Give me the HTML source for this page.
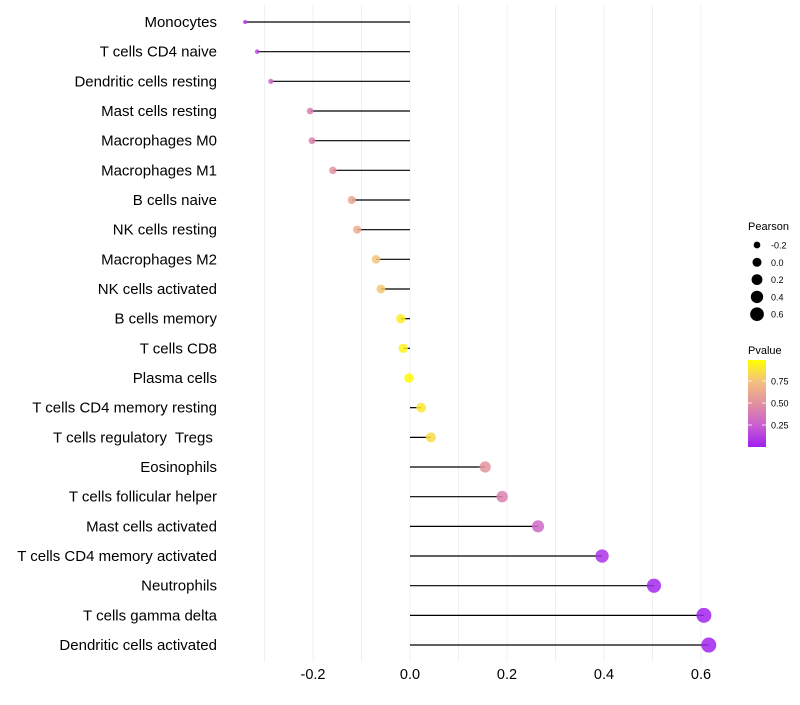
<!DOCTYPE html>
<html><head><meta charset="utf-8"><style>
body{margin:0;background:#fff;font-family:"Liberation Sans",sans-serif}
text{white-space:pre}
</style></head><body>
<svg id="chart" width="800" height="700" font-family="Liberation Sans, sans-serif"></svg>
<script>
const categories=["Monocytes","T cells CD4 naive","Dendritic cells resting","Mast cells resting","Macrophages M0","Macrophages M1","B cells naive","NK cells resting","Macrophages M2","NK cells activated","B cells memory","T cells CD8","Plasma cells","T cells CD4 memory resting","T cells regulatory  Tregs ","Eosinophils","T cells follicular helper","Mast cells activated","T cells CD4 memory activated","Neutrophils","T cells gamma delta","Dendritic cells activated"];
const pearson=[-0.34,-0.315,-0.287,-0.206,-0.202,-0.159,-0.12,-0.109,-0.07,-0.06,-0.019,-0.014,-0.002,0.023,0.043,0.155,0.19,0.264,0.396,0.503,0.606,0.616];
const pvalue=[0.1,0.15,0.3,0.42,0.42,0.52,0.62,0.64,0.76,0.78,0.93,0.95,0.99,0.9,0.86,0.52,0.42,0.3,0.08,0.03,0.01,0.01];
const xTicks=[-0.2,0,0.2,0.4,0.6];
const xTickLabels=["-0.2","0.0","0.2","0.4","0.6"];
const gridVals=[-0.3,-0.2,-0.1,0,0.1,0.2,0.3,0.4,0.5,0.6];
const sizeLegend=[-0.2,0,0.2,0.4,0.6];
const pLegend=[0.25,0.5,0.75];

const svg=document.getElementById('chart');
const NS='http://www.w3.org/2000/svg';
const x=v=>410+v*485;
const y=i=>22+i*29.667;
const r=v=>Math.sqrt(Math.max(2,4+(v+0.34)*55));
const rl=v=>Math.sqrt(Math.max(1.5,2.5+(v+0.34)*40));
function lerp(a,b,t){return a.map((c,k)=>Math.round(c+(b[k]-c)*t));}
const stops=[[0,[160,32,240]],[0.25,[200,96,208]],[0.5,[226,144,160]],[0.75,[244,192,128]],[1,[255,255,0]]];
function col(p){for(let k=0;k<stops.length-1;k++){if(p<=stops[k+1][0]){const t=(p-stops[k][0])/(stops[k+1][0]-stops[k][0]);return 'rgb('+lerp(stops[k][1],stops[k+1][1],t).join(',')+')';}}return 'rgb(255,255,0)';}
function el(t,a,txt){const e=document.createElementNS(NS,t);for(const k in a)e.setAttribute(k,a[k]);if(txt!==undefined)e.textContent=txt;svg.appendChild(e);return e;}

gridVals.forEach(v=>{const g=el('line',{x1:x(v),x2:x(v),y1:5,y2:662,stroke:'#f0f0f0','stroke-width':1});

});
xTicks.forEach((v,i)=>{const t=el('text',{x:x(v),y:679,'font-size':14.5,'text-anchor':'middle',fill:'#000'},xTickLabels[i]);

});
categories.forEach((c,i)=>{
const t=el('text',{x:217,y:y(i)+5,'font-size':15,'text-anchor':'end',fill:'#000'},c);


const l=el('line',{x1:x(0),x2:x(pearson[i]),y1:y(i),y2:y(i),stroke:'#000','stroke-width':1.2});


const d=el('circle',{cx:x(pearson[i]),cy:y(i),r:r(pearson[i]),fill:col(pvalue[i]),'fill-opacity':0.85});


});
const st=el('text',{x:748,y:230,'font-size':11},'Pearson');


sizeLegend.forEach((v,i)=>{const cy=245+i*17.3;
const c=el('circle',{cx:757,cy:cy,r:rl(v)+0.5,fill:'#000'});


const t=el('text',{x:771,y:cy+3.5,'font-size':9},v===0?'0.0':String(v));

});
const pt=el('text',{x:748,y:354,'font-size':11},'Pvalue');


const defs=el('defs',{});
const lg=document.createElementNS(NS,'linearGradient');lg.setAttribute('id','pg');lg.setAttribute('x1','0');lg.setAttribute('x2','0');lg.setAttribute('y1','1');lg.setAttribute('y2','0');
stops.forEach(s=>{const e=document.createElementNS(NS,'stop');e.setAttribute('offset',s[0]);e.setAttribute('stop-color','rgb('+s[1].join(',')+')');lg.appendChild(e);});
defs.appendChild(lg);
const bar=el('rect',{x:748,y:360,width:18,height:87,fill:'url(#pg)'});


pLegend.forEach(p=>{const yy=447-p*88;
el('line',{x1:748,x2:752,y1:yy,y2:yy,stroke:'#fff','stroke-width':0.8});
el('line',{x1:762,x2:766,y1:yy,y2:yy,stroke:'#fff','stroke-width':0.8});
const t=el('text',{x:771,y:yy+3.5,'font-size':9},p.toFixed(2));

});
</script>
</body></html>
